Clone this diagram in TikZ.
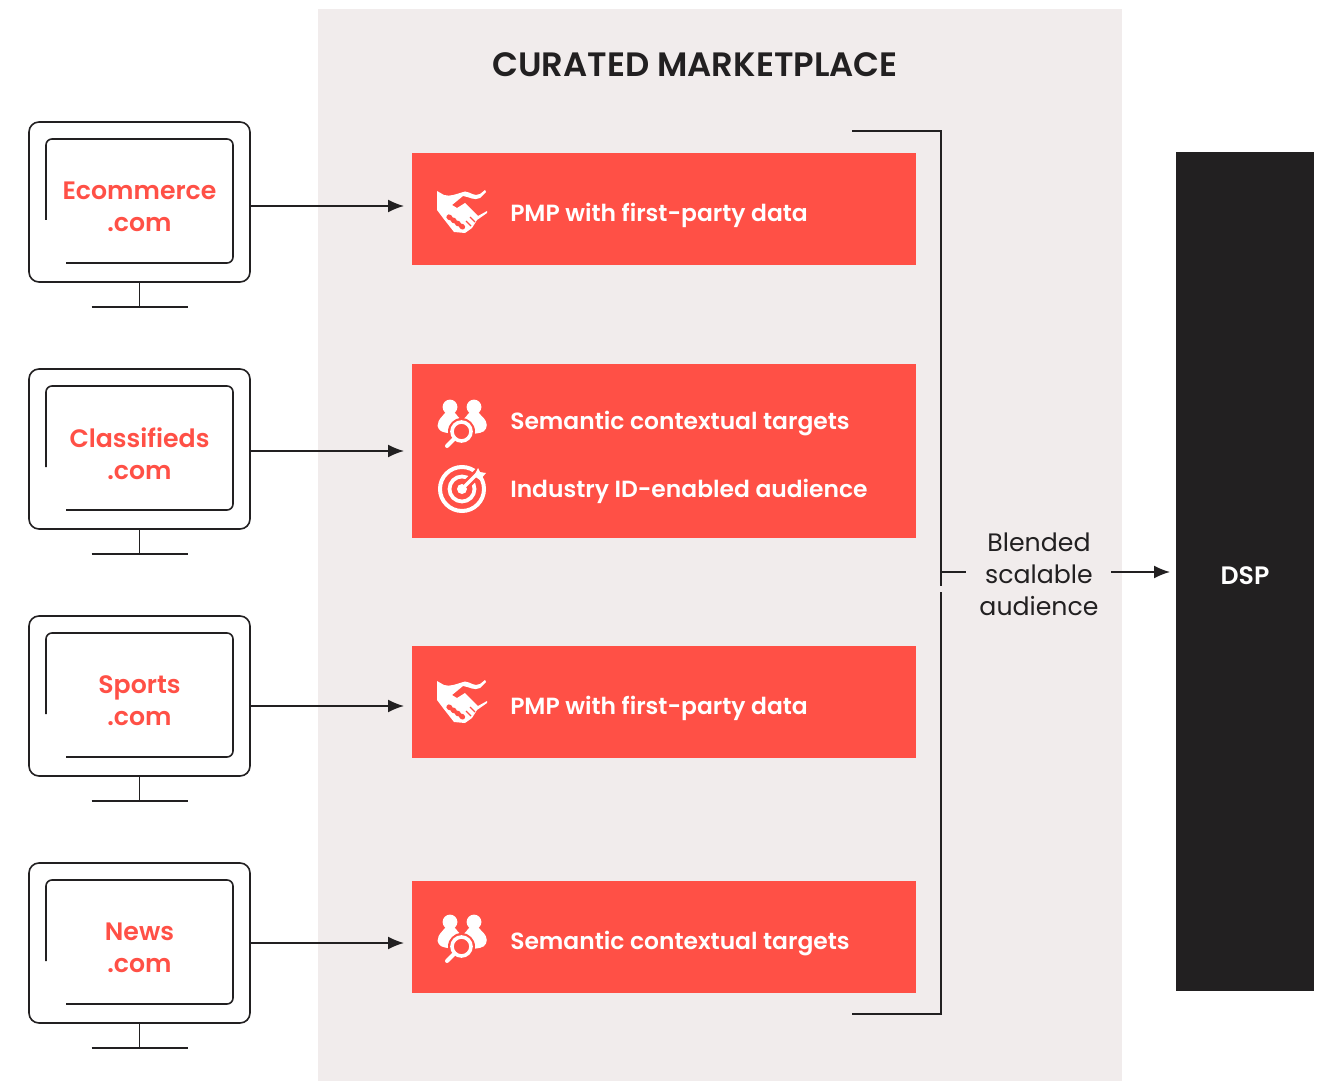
\documentclass[tikz,border=0pt]{standalone}
\usepackage{fontspec}
\setmainfont{Poppins}
\newfontfamily\boldlabel{Poppins SemiBold}
\usetikzlibrary{arrows.meta}

\definecolor{coral}{HTML}{FF5046}
\definecolor{blush}{HTML}{F1ECEC}
\definecolor{ink}{HTML}{222021}

\tikzset{
  every picture/.style={line width=0.75pt},
  wire/.style={draw=ink,line width=0.8pt},
  flow/.style={wire,-{Latex[length=8pt,width=6.5pt]},shorten >=4pt},
  offer/.style={fill=coral,minimum width=252pt,inner sep=0pt,outer sep=0pt},
  offertext/.style={anchor=west,inner sep=0pt,text=white,font=\boldlabel\fontsize{11.7}{14}\selectfont},
  screen/.style={wire,rounded corners=5pt,minimum width=110.5pt,minimum height=80pt,inner sep=0pt,outer sep=0pt},
  sitename/.style={align=center,text=coral,inner sep=0pt,font=\boldlabel\fontsize{12.6}{16}\selectfont},
  % monitor outline, the site name goes in as argument
  monitor/.pic={
    \node[screen] (-frame) at (0,0) {};
    \draw[wire,rounded corners=3pt] (-93.5,18) -- (-93.5,-63) -- (93.5,-63) -- (93.5,61) -- (-73.5,61);
    \draw[wire] (-frame.south) -- ++(0,25) coordinate (-foot);
    \draw[wire] ([xshift=-24pt]-foot) -- ([xshift=24pt]-foot);
    \node[sitename] (-name) at (0,5) {#1\\.com};
  },
  handshake/.pic={
    \fill[white] (-25,-21) -- (-18,-17) .. controls (-12,-15) and (-6,-18) .. (3,-20.5)
      .. controls (9,-20) and (12,-15) .. (18,-18) -- (23,-22) -- (24,-20) -- (18,-14)
      .. controls (12,-11) and (8,-15) .. (1,-16) -- (-10,-7) -- (-5,-4) -- (3,-9)
      -- (16,4) -- (25,-1) -- (25,1) -- (15,8) -- (10,16) -- (3,21) -- (-8,20) -- (-19,6) -- (-25,-2) -- cycle;
    \draw[coral,line width=2.6pt,line cap=round,dash pattern=on 0.6pt off 2pt] (-13,5) -- (2,16);
    \draw[coral,line width=0.7pt] (8,5) -- (13,10) (4,9) -- (9,14);
  },
  peoplelens/.pic={
    \fill[white] (-12,-16) circle (7.4);
    \fill[white] (12,-16) circle (7.4);
    \fill[white,rounded corners=2pt] (-24.5,6) .. controls (-24,-4) and (-19,-7) .. (-17,-12)
      -- (-7,-12) .. controls (-5,-7) and (-1,-4) .. (0,1) .. controls (1,-4) and (5,-7) .. (7,-12)
      -- (17,-12) .. controls (19,-7) and (24.5,-4) .. (25,6) .. controls (18,11) and (8,11) .. (0,11)
      .. controls (-8,11) and (-18,10) .. (-24.5,6) -- cycle;
    \fill[coral] (-0.5,8.5) circle (13.5);
    \draw[white,line width=1.8pt] (-0.5,8.5) circle (9.5);
    \draw[white,line width=2pt,line cap=round] (-7.5,15.5) -- (-15,23);
  },
  bullseye/.pic={
    \draw[white,line width=2pt] (0,0) circle (22);
    \draw[white,line width=1.9pt] (0,0) circle (12.5);
    \fill[white] (0,0) circle (5);
    \draw[coral,line width=4.5pt] (3,-3) -- (24,-24);
    \draw[white,line width=1.6pt,line cap=round] (0,0) -- (16,-16);
    \fill[white] (12,-13) -- (16,-21) -- (18,-17) -- (24,-16) -- (18,-9) -- cycle;
  }
}

\begin{document}
\begin{tikzpicture}[x=0.5pt,y=-0.5pt]
\useasboundingbox (0,0) rectangle (1329,1081);

% marketplace panel
\fill[blush] (318,9) rectangle (1122,1081);
\node[text=ink,inner sep=0pt,font=\boldlabel\fontsize{16.9}{20}\selectfont] (title) at (695,65) {CURATED MARKETPLACE};

% monitors
\pic (ecommerce) at (139.5,202) {monitor={Ecommerce}};
\pic (classifieds) at (139.5,449) {monitor={Classifieds}};
\pic (sports) at (139.5,696) {monitor={Sports}};
\pic (news) at (139.5,943) {monitor={News}};

% offers
\node[offer,minimum height=56pt] (pmpone) at (664,209) {};
\node[offer,minimum height=87pt] (mixed) at (664,451) {};
\node[offer,minimum height=56pt] (pmptwo) at (664,702) {};
\node[offer,minimum height=56pt] (semantic) at (664,937) {};

\pic at (462,212) {handshake};
\node[offertext] (pmponetext) at (509.5,215) {PMP with first-party data};
\pic at (462,423) {peoplelens};
\node[offertext] (mixedtexta) at (509.5,424) {Semantic contextual targets};
\pic at (462,489) {bullseye};
\node[offertext] (mixedtextb) at (509.5,491) {Industry ID-enabled audience};
\pic at (462,702) {handshake};
\node[offertext] (pmptwotext) at (509.5,708) {PMP with first-party data};
\pic at (462,938) {peoplelens};
\node[offertext] (semantictext) at (509.5,944) {Semantic contextual targets};

% site to offer
\draw[flow] ([yshift=-2pt]ecommerce-frame.east) -- ([yshift=-2pt]ecommerce-frame.east -| pmpone.west);
\draw[flow] ([yshift=-1pt]classifieds-frame.east) -- ([yshift=-1pt]classifieds-frame.east -| mixed.west);
\draw[flow] ([yshift=-5pt]sports-frame.east) -- ([yshift=-5pt]sports-frame.east -| pmptwo.west);
\draw[flow] (news-frame.east) -- (news-frame.east -| semantic.west);

% bracket and output
\node[fill=ink,minimum width=69pt,minimum height=419.5pt,inner sep=0pt,outer sep=0pt] (dsp) at (1245,571.5) {};
\node[text=white,inner sep=0pt,font=\boldlabel\fontsize{12.6}{14}\selectfont] (dsplabel) at (1245,576) {DSP};
\node[align=center,text=ink,inner sep=0pt,font=\fontsize{12.6}{16}\selectfont] (blended) at (1039,574.5) {Blended\\scalable\\audience};
\coordinate (top) at (852,131);
\coordinate (bottom) at (852,1014);
\coordinate (tee) at (941,572);
\draw[wire] (top) -- (941,131) -- (941,586);
\draw[wire] (941,592) -- (941,1014) -- (bottom);
\draw[wire] (tee) -- ++(25,0);
\draw[flow,shorten >=3pt] (1111,572) -- (dsp.west |- tee);
\end{tikzpicture}
\end{document}
